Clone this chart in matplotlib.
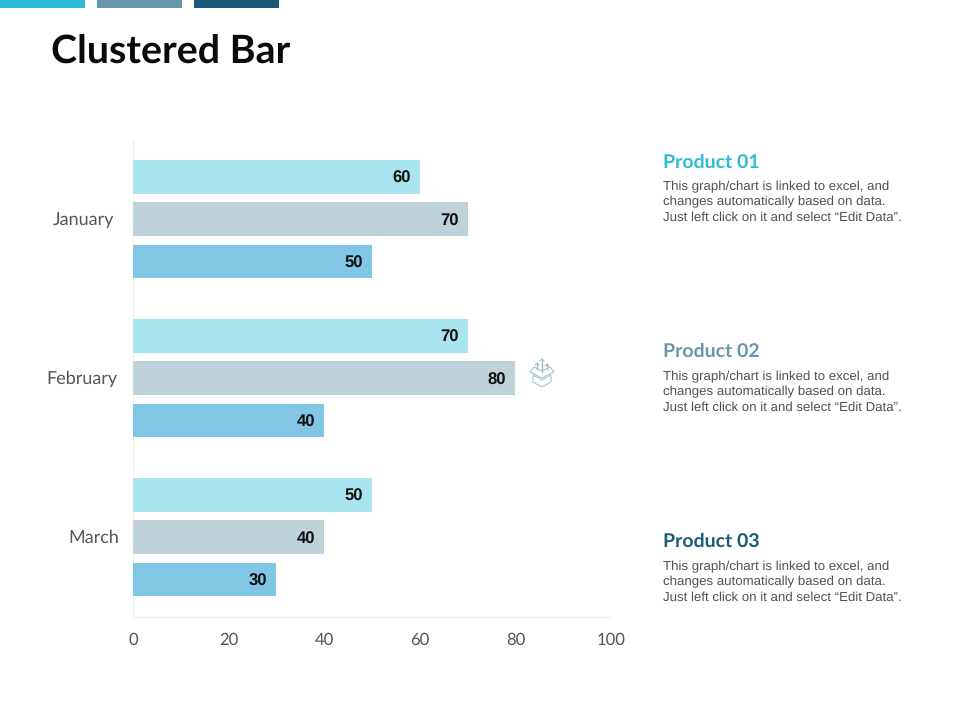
import matplotlib
matplotlib.use('Agg')
import matplotlib.pyplot as plt
from matplotlib.patches import Rectangle, Polygon
from matplotlib.lines import Line2D
import numpy as np

plt.rcParams['text.hinting'] = 'no_hinting'

# data
months = ['January', 'February', 'March']
product_01 = [60, 70, 50]
product_02 = [70, 80, 40]
product_03 = [50, 40, 30]
x_ticks = [0, 20, 40, 60, 80, 100]
products = ['Product 01', 'Product 02', 'Product 03']
note = 'This graph/chart is linked to excel, and\nchanges automatically based on data.\nJust left click on it and select \u201cEdit Data\u201d.'

bar_colors = ['#a8e5ef', '#bfd2da', '#82c6e6']
head_colors = ['#2bbcd4', '#6797ab', '#1b5a78']

W, H = 960, 720
fig = plt.figure(figsize=(9.6, 7.2), dpi=100)

def px(x, y):
    return x / W, 1 - y / H

# top strips
for x0, c in zip([0, 97, 194], head_colors):
    fig.add_artist(Rectangle(px(x0, 8), 84.5 / W, 8 / H, color=c, lw=0, transform=fig.transFigure))

fig.text(*px(51, 52), 'Clustered Bar', fontsize=28.4, fontweight='bold', family='Lato',
         color='#0a0a0a', va='center', ha='left')

# chart
left, right, top, bottom = 133, 611, 139.8, 616.6
ax = fig.add_axes([left / W, 1 - bottom / H, (right - left) / W, (bottom - top) / H])
y = np.arange(len(months))
offset = 42.4 / 159
height = 33.6 / 159
series = [product_01, product_02, product_03]
for i, vals in enumerate(series):
    bars = ax.barh(y + (i - 1) * offset, vals, height=height, color=bar_colors[i], lw=0, zorder=3)
    for b, v in zip(bars, vals):
        ax.annotate(str(v), (v, b.get_y() + b.get_height() / 2), xytext=(-9, -2),
                    textcoords='offset pixels', ha='right', va='center', zorder=4,
                    fontsize=12, fontweight='bold', family='Liberation Sans', color='#111111')

ax.set_xlim(0, 100)
ax.set_ylim(2.5, -0.5)
ax.set_xticks(x_ticks)
ax.set_yticks([])
ax.tick_params(axis='x', length=0, pad=11, labelsize=12, labelcolor='#555555')
for lab in ax.get_xticklabels():
    lab.set_family('Lato')
for s in ['top', 'right']:
    ax.spines[s].set_visible(False)
for s in ['left', 'bottom']:
    ax.spines[s].set_color('#eeeeee')
    ax.spines[s].set_linewidth(0.8)
    ax.spines[s].set_zorder(1)

# month labels sit at slightly different distances in the original
for yy, m, gap in zip(y, months, [19, 16, 14]):
    ax.annotate(m, (0, yy), xytext=(-gap, -1), textcoords='offset pixels', ha='right', va='center',
                fontsize=13, family='Lato', color='#555555')

# right hand text
for name, c, yh, yn in zip(products, head_colors, [162, 351, 541], [202, 392, 582]):
    fig.text(*px(663, yh), name, fontsize=14, fontweight='bold', family='Lato', color=c,
             va='center', ha='left')
    fig.text(*px(663, yn), note, fontsize=9.5, family='Liberation Sans', color='#505050',
             va='center', ha='left', linespacing=1.36)

# small box icon next to the February bar
ic = '#9dbcc8'
box = [[(530, 372), (542, 378), (554, 372), (550, 367), (542, 371), (534, 367)],
       [(533, 375), (542, 380), (551, 375), (551, 382), (542, 387), (533, 382)]]
for pts in box:
    fig.add_artist(Polygon([px(*p) for p in pts], closed=True, fill=False, ec=ic, lw=0.7,
                           transform=fig.transFigure))
for xa, ya, yb in [(537, 369, 363), (542, 372, 359), (547, 369, 364)]:
    fig.add_artist(Line2D(*zip(px(xa, ya), px(xa, yb)), color=ic, lw=1.0, transform=fig.transFigure))
    fig.add_artist(Line2D(*zip(px(xa - 2, yb + 2), px(xa, yb), px(xa + 2, yb + 2)), color=ic, lw=0.7,
                          transform=fig.transFigure))

fig.savefig('out.png', dpi=100)
